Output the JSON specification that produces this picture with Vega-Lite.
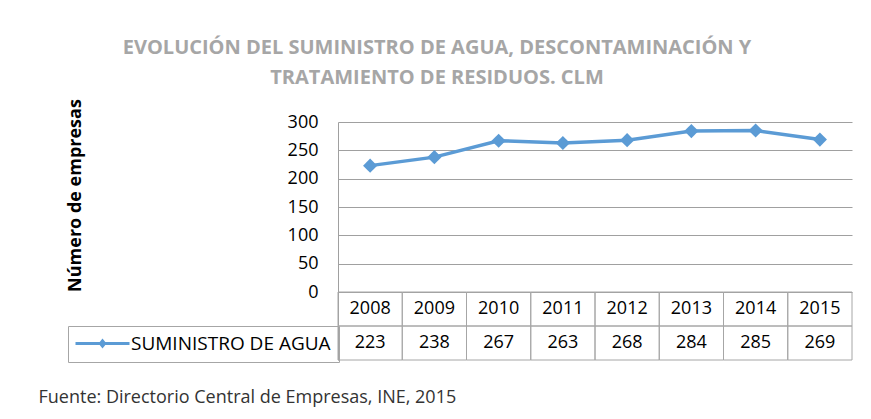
{
  "$schema": "https://vega.github.io/schema/vega-lite/v6.json",
  "width": 514,
  "height": 238,
  "autosize": {"type": "none"},
  "padding": {"left": 338, "top": 122, "right": 19, "bottom": 59},
  "background": "white",
  "config": {"view": {"stroke": null}, "font": "Open Sans"},
  "title": {
    "text": ["EVOLUCIÓN DEL SUMINISTRO DE AGUA, DESCONTAMINACIÓN Y", "TRATAMIENTO DE RESIDUOS. CLM"],
    "font": "Open Sans",
    "fontSize": 20,
    "fontWeight": "bold",
    "color": "#a6a6a6",
    "lineHeight": 30,
    "anchor": "middle",
    "frame": "group",
    "dx": -158,
    "offset": 11
  },
  "data": {
    "values": [
      {"year": "2008", "value": 223, "serie": "SUMINISTRO DE AGUA"},
      {"year": "2009", "value": 238, "serie": "SUMINISTRO DE AGUA"},
      {"year": "2010", "value": 267, "serie": "SUMINISTRO DE AGUA"},
      {"year": "2011", "value": 263, "serie": "SUMINISTRO DE AGUA"},
      {"year": "2012", "value": 268, "serie": "SUMINISTRO DE AGUA"},
      {"year": "2013", "value": 284, "serie": "SUMINISTRO DE AGUA"},
      {"year": "2014", "value": 285, "serie": "SUMINISTRO DE AGUA"},
      {"year": "2015", "value": 269, "serie": "SUMINISTRO DE AGUA"}
    ]
  },
  "layer": [
    {
      "mark": {"type": "line", "strokeWidth": 3.5},
      "encoding": {
        "x": {"field": "year", "type": "nominal", "bandPosition": 0.5,
          "scale": {"type": "band", "paddingInner": 0, "paddingOuter": 0},
          "axis": {"labels": false, "ticks": false, "domain": false, "grid": false,
            "title": "Fuente: Directorio Central de Empresas, INE, 2015",
            "titleFont": "Open Sans", "titleFontSize": 18, "titleFontWeight": "normal", "titleColor": "#333333",
            "titleX": -300, "titleY": 37, "titleAlign": "left", "titleBaseline": "middle", "titleAnchor": null}},
        "y": {"field": "value", "type": "quantitative",
          "scale": {"domain": [-120, 300], "nice": false, "zero": false},
          "axis": {"values": [0, 50, 100, 150, 200, 250, 300], "tickCount": 7, "grid": true, "gridColor": "#a0a0a0", "gridWidth": 1,
            "domain": true, "domainColor": "#a0a0a0", "ticks": false, "labelOverlap": false,
            "labelFont": "Open Sans", "labelFontSize": 18, "labelColor": "#000000", "labelPadding": 20,
            "title": "Número de empresas", "titleFont": "Open Sans", "titleFontSize": 18, "titleFontWeight": "bold",
            "titleColor": "#000000", "titleX": -263, "titleY": 73, "titleAngle": 270, "titleAlign": "center",
            "titleBaseline": "middle"}},
        "color": {"field": "serie", "type": "nominal", "scale": {"range": ["#5b9bd5"]},
          "legend": {
            "title": null, "orient": "none", "legendX": -270, "legendY": 204,
            "strokeColor": "#a6a6a6", "padding": 8,
            "symbolType": "M-5.4,-0.3H5.4V0.3H-5.4Z M0,-1L0.8,0L0,1L-0.8,0Z",
            "symbolSize": 100, "symbolOffset": 17, "labelOffset": 19, "labelLimit": 400,
            "symbolFillColor": "#5b9bd5", "symbolStrokeWidth": 0,
            "labelFont": "Open Sans", "labelFontSize": 19, "labelColor": "#000000",
            "encode": {"symbols": {"update": {"fill": {"value": "#5b9bd5"}, "stroke": {"value": "#5b9bd5"}, "strokeWidth": {"value": 0}}}}
          }}
      }
    },
    {
      "mark": {"type": "point", "shape": "diamond", "filled": true, "size": 200, "color": "#5b9bd5", "opacity": 1},
      "encoding": {
        "x": {"field": "year", "type": "nominal", "bandPosition": 0.5},
        "y": {"field": "value", "type": "quantitative"}
      }
    },
    {
      "mark": {"type": "rect", "fill": null, "stroke": "#a6a6a6", "strokeWidth": 1},
      "encoding": {
        "x": {"field": "year", "type": "nominal"},
        "y": {"datum": 0, "type": "quantitative"},
        "y2": {"datum": -60}
      }
    },
    {
      "mark": {"type": "rect", "fill": null, "stroke": "#a6a6a6", "strokeWidth": 1},
      "encoding": {
        "x": {"field": "year", "type": "nominal"},
        "y": {"datum": -60, "type": "quantitative"},
        "y2": {"datum": -120}
      }
    },
    {
      "mark": {"type": "text", "font": "Open Sans", "fontSize": 18, "color": "#000000", "baseline": "middle"},
      "encoding": {
        "x": {"field": "year", "type": "nominal", "bandPosition": 0.5},
        "y": {"datum": -30, "type": "quantitative"},
        "text": {"field": "year"}
      }
    },
    {
      "mark": {"type": "text", "font": "Open Sans", "fontSize": 18, "color": "#000000", "baseline": "middle"},
      "encoding": {
        "x": {"field": "year", "type": "nominal", "bandPosition": 0.5},
        "y": {"datum": -90, "type": "quantitative"},
        "text": {"field": "value", "type": "quantitative"}
      }
    }
  ]
}
